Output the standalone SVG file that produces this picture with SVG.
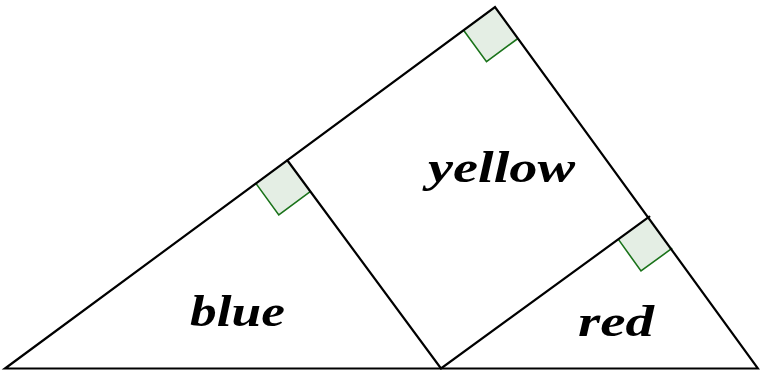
<svg xmlns="http://www.w3.org/2000/svg" width="760" height="370" viewBox="0 0 760 370">
<style>
.edge{fill:none;stroke:#000;stroke-width:2.2;stroke-linejoin:miter;stroke-linecap:round}
.ra{fill:#e4eee4;stroke:none}
.rl{fill:none;stroke:#1a731a;stroke-width:1.6;stroke-linejoin:miter}
.lbl{font-family:"Liberation Serif","DejaVu Serif",serif;font-weight:bold;font-style:italic;font-size:44px;fill:#000}
</style>
<rect width="760" height="370" fill="#fff"/>
<g id="right-angles">
<path class="ra" d="M463.6,30.2 L486.5,61.7 L517.9,38.5 L495,7 Z"/>
<path class="ra" d="M255.9,183.4 L278.8,214.9 L310.2,191.7 L287.5,160.5 Z"/>
<path class="ra" d="M618.4,239.4 L641,271 L672.2,248.2 L649.3,216.7 Z"/>
<path class="rl" d="M463.6,30.2 L486.5,61.7 L517.9,38.5"/>
<path class="rl" d="M255.9,183.4 L278.8,214.9 L310.2,191.7"/>
<path class="rl" d="M618.4,239.4 L641,271 L672.2,248.2"/>
</g>
<g id="connectors">
<path class="edge" d="M5,368.5 L495,7 L758,368.5 Z"/>
<path class="edge" d="M287.5,160.5 L441,368.5 L649.3,216.7"/>
</g>
<g id="yellow"><text class="lbl" x="428" y="182" textLength="147" lengthAdjust="spacingAndGlyphs">yellow</text></g>
<g id="blue"><text class="lbl" x="190" y="326" textLength="95" lengthAdjust="spacingAndGlyphs">blue</text></g>
<g id="red"><text class="lbl" x="578" y="336" textLength="76" lengthAdjust="spacingAndGlyphs">red</text></g>
</svg>
